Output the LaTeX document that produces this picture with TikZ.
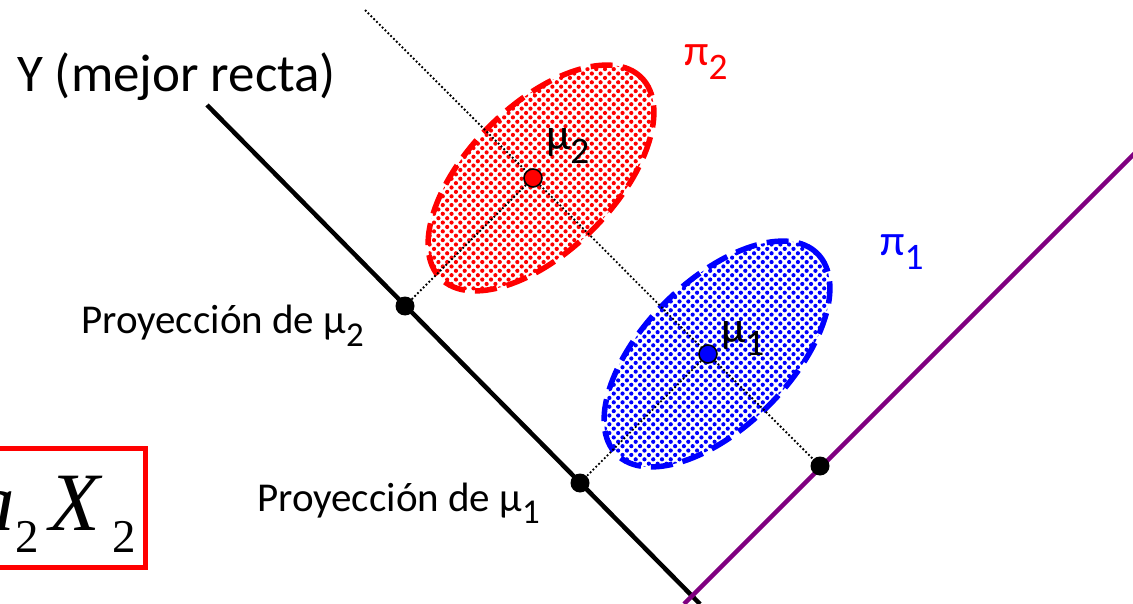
\documentclass[tikz,border=0pt]{standalone}
\usepackage{fontspec}
\setmainfont{Carlito}
\newfontfamily\tnrfont{Liberation Serif}
\usetikzlibrary{shapes.geometric,patterns.meta,positioning}
\newcommand{\idx}[1]{\raisebox{-0.3em}{\scalebox{0.85}{#1}}}
\newcommand{\eqsub}[1]{\raisebox{-22pt}{\fontsize{47}{47}\selectfont\upshape #1}}

\begin{document}
\begin{tikzpicture}[
    x=1pt, y=-1pt,
    axisline/.style={line width=4.5pt},
    proj/.style={line width=1.8pt, dash pattern=on 1.8pt off 2.2pt},
    cloud/.style={ellipse, rotate=45, minimum width=284pt, minimum height=146pt,
      inner sep=0pt, line width=5.5pt, dash pattern=on 22pt off 10pt,
      pattern={Dots[radius=2.1pt, distance=6.2pt, angle=45]}},
    foot/.style={circle, fill=black, minimum size=19pt, inner sep=0pt},
    mean/.style={circle, draw=black, line width=1.6pt, minimum size=18pt, inner sep=0pt},
    lbl/.style={font=\fontsize{41}{44}\selectfont, inner sep=0pt},
    greek/.style={font=\fontsize{44}{46}\selectfont, inner sep=0pt}
  ]
  \useasboundingbox (0,0) rectangle (1133,604);

  % lines
  \coordinate (ytop) at (207,105);
  \coordinate (ybot) at (700,604);
  \coordinate (vbot) at (684,604);
  \coordinate (vtop) at (1140,148);
  \coordinate (dtop) at (365,10);
  \draw[axisline, black] (ytop) -- (ybot);
  \draw[axisline, color={rgb,255:red,128;green,0;blue,128}] (vbot) -- (vtop);

  % the two groups
  \node[cloud, draw=red, pattern color=red] (c2) at (541,178) {};
  \node[cloud, draw=blue, pattern color=blue] (c1) at (717,354) {};

  \node[foot] (p2) at (405,306) {};
  \node[foot] (p1) at (580,483) {};
  \node[foot] (q) at (820,466) {};
  \node[mean, fill=red] (m2) at (533,178) {};
  \node[mean, fill=blue] (m1) at (708,354) {};

  \draw[proj] (dtop) -- (m2) -- (m1) -- (q);
  \draw[proj] (m2) -- (p2);
  \draw[proj] (m1) -- (p1);

  % labels
  \node[font=\fontsize{53}{56}\selectfont, inner sep=0pt, anchor=base west] (ylbl)
    at (17,92) {Y (mejor recta)};
  \node[greek, anchor=base west] (l2) at (546,150) {μ\idx{2}};
  \node[greek, anchor=base west] (l1) at (721,342) {μ\idx{1}};
  \node[greek, red, anchor=base west] (pi2) at (684,66) {π\idx{2}};
  \node[greek, blue, anchor=base west] (pi1) at (880,256) {π\idx{1}};
  \node[lbl, anchor=base west] (lp2) at (81,334) {Proyección de μ\idx{2}};
  \node[lbl, anchor=base west] (lp1) at (257,511) {Proyección de μ\idx{1}};

  % cut equation box
  \node[draw=red, line width=5pt, minimum width=200pt, minimum height=119.5pt,
    anchor=north east] (eqbox) at (147.5,445.5) {};
  \node[inner sep=0pt, anchor=base east] (eq) at (136,530)
    {\tnrfont\fontsize{83}{83}\selectfont\itshape a\eqsub{2}\hspace{11pt}X\hspace{12pt}\eqsub{2}};
\end{tikzpicture}
\end{document}
